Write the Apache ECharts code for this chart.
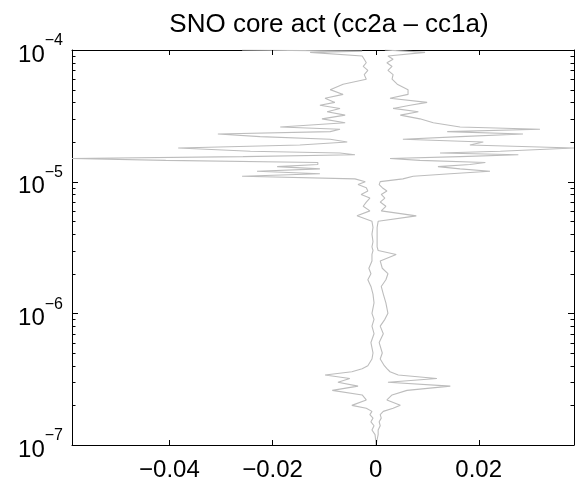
<!DOCTYPE html>
<html>
<head>
<meta charset="utf-8">
<script src="https://cdn.jsdelivr.net/npm/echarts@6/dist/echarts.min.js"></script>
<style>
html,body{margin:0;padding:0;background:#fff;}
#chart{width:581px;height:498px;}
</style>
</head>
<body>
<div id="chart"></div>
<script>
// Depth levels (y, log scale)
var depth = [
  1.0e-7,1.1e-7,1.2e-7,1.3e-7,1.4e-7,1.5e-7,1.6e-7,1.7e-7,1.8e-7,1.9e-7,2.0e-7,2.2e-7,2.4e-7,2.6e-7,2.8e-7,3.0e-7,3.2e-7,3.4e-7,3.6e-7,3.8e-7,4.0e-7,4.5e-7,5.0e-7,6.0e-7,7.0e-7,8.0e-7,9.0e-7,
  1.0e-6,1.2e-6,1.4e-6,1.6e-6,1.8e-6,2.0e-6,2.2e-6,2.5e-6,2.8e-6,3.0e-6,3.2e-6,3.5e-6,4.0e-6,4.5e-6,5.0e-6,5.5e-6,6.0e-6,6.5e-6,7.0e-6,7.5e-6,8.0e-6,8.5e-6,9.0e-6,9.5e-6,
  1.0e-5,1.05e-5,1.1e-5,1.15e-5,1.2e-5,1.25e-5,1.3e-5,1.35e-5,1.4e-5,1.45e-5,1.5e-5,1.55e-5,1.6e-5,1.65e-5,1.7e-5,1.8e-5,1.9e-5,2.0e-5,2.1e-5,2.2e-5,2.3e-5,2.4e-5,2.5e-5,2.6e-5,2.8e-5,3.0e-5,3.2e-5,3.4e-5,3.6e-5,3.8e-5,4.0e-5,4.3e-5,4.6e-5,5.0e-5,5.5e-5,6.0e-5,6.5e-5,7.0e-5,7.5e-5,8.0e-5,8.5e-5,9.0e-5,9.3e-5,9.6e-5,9.8e-5,1.0e-4
];
// Left-hand trace (x values)
var leftX = [
  0.0001,0.0000,-0.0001,-0.0007,-0.0003,-0.0009,-0.0005,-0.0011,-0.0007,-0.0018,-0.0046,-0.0018,-0.0026,-0.0084,-0.0034,-0.0073,-0.0050,-0.0098,-0.0046,-0.0026,-0.0015,-0.0007,-0.0005,-0.0009,-0.0003,-0.0007,-0.0003,
  -0.0007,-0.0003,-0.0005,-0.0009,-0.0015,-0.0009,-0.0013,-0.0007,-0.0007,-0.0005,-0.0007,-0.0005,-0.0007,-0.0005,-0.0007,-0.0036,-0.0011,-0.0024,-0.0018,-0.0011,-0.0028,-0.0015,-0.0018,-0.0034,
  -0.0020,-0.0040,-0.0259,-0.0108,-0.0230,-0.0108,-0.0191,-0.0112,-0.0112,-0.0407,-0.0589,-0.0257,-0.0040,-0.0069,-0.0243,-0.0383,-0.0147,-0.0055,-0.0088,-0.0224,-0.0306,-0.0088,-0.0069,-0.0185,-0.0059,-0.0104,-0.0059,-0.0094,-0.0069,-0.0108,-0.0079,-0.0098,-0.0063,-0.0088,-0.0063,-0.0018,-0.0022,-0.0015,-0.0024,-0.0018,-0.0022,-0.0026,-0.0024,-0.0127,-0.0026,-0.0259
];
// Right-hand trace (x values)
var rightX = [
  0.0001,0.0003,0.0005,0.0005,0.0009,0.0007,0.0011,0.0009,0.0015,0.0034,0.0048,0.0022,0.0032,0.0061,0.0145,0.0024,0.0119,0.0044,0.0028,0.0022,0.0017,0.0009,0.0013,0.0007,0.0015,0.0009,0.0018,
  0.0024,0.0020,0.0015,0.0011,0.0020,0.0024,0.0013,0.0009,0.0040,0.0005,0.0003,0.0003,0.0003,0.0003,0.0005,0.0079,0.0011,0.0020,0.0009,0.0018,0.0011,0.0022,0.0013,0.0007,
  0.0009,0.0053,0.0073,0.0145,0.0222,0.0164,0.0121,0.0183,0.0213,0.0086,0.0028,0.0164,0.0277,0.0125,0.0242,0.0385,0.0183,0.0209,0.0053,0.0164,0.0286,0.0139,0.0319,0.0164,0.0112,0.0086,0.0048,0.0083,0.0034,0.0067,0.0100,0.0028,0.0063,0.0063,0.0042,0.0032,0.0034,0.0024,0.0032,0.0022,0.0034,0.0024,0.0024,0.0096,0.0057,0.0018
];
var xTicks = [-0.04, -0.02, 0, 0.02];
var yMajorTicks = [1e-7, 1e-6, 1e-5, 1e-4];
var yMinorTicks = [2e-7,3e-7,4e-7,5e-7,6e-7,7e-7,8e-7,9e-7,2e-6,3e-6,4e-6,5e-6,6e-6,7e-6,8e-6,9e-6,2e-5,3e-5,4e-5,5e-5,6e-5,7e-5,8e-5,9e-5];
var X_MIN = -0.0589, X_MAX = 0.0385, Y_MIN = 1e-7, Y_MAX = 1e-4;

var FONT = '"Liberation Sans", Arial, Helvetica, sans-serif';
var lineColor = '#bdbdbd';

function zip(ys, xs) { return ys.map(function (y, i) { return [xs[i], y]; }); }

var chart = echarts.init(document.getElementById('chart'), null, {renderer: 'canvas'});

var xAxisCommon = {
  type: 'value', min: X_MIN, max: X_MAX,
  splitLine: {show: false},
  axisLine: {show: true, onZero: false, lineStyle: {color: '#000', width: 1}},
  axisTick: {show: false}
};
var yAxisCommon = {
  type: 'log', min: Y_MIN, max: Y_MAX, logBase: 10,
  splitLine: {show: false},
  axisLine: {show: true, onZero: false, lineStyle: {color: '#000', width: 1}},
  axisTick: {show: false},
  minorTick: {show: false}
};

var option = {
  animation: false,
  backgroundColor: '#fff',
  title: {
    text: 'SNO core act (cc2a \u2013 cc1a)',
    left: 324, top: 7, textAlign: 'center',
    textStyle: {fontFamily: FONT, fontSize: 26, fontWeight: 'normal', color: '#000'}
  },
  grid: {left: 72, right: 7, top: 50, bottom: 53, containLabel: false},
  xAxis: [
    Object.assign({}, xAxisCommon, {
      position: 'bottom',
      axisLabel: {
        show: true, customValues: xTicks, margin: 13, color: '#000',
        fontFamily: FONT, fontSize: 24,
        formatter: function (v) { return v === 0 ? '0' : String(v).replace('-', '\u2212'); }
      }
    }),
    Object.assign({}, xAxisCommon, {position: 'top', axisLabel: {show: false}})
  ],
  yAxis: [
    Object.assign({}, yAxisCommon, {
      position: 'left',
      axisLabel: {
        show: true, margin: 9, color: '#000',
        formatter: function (v) {
          var e = Math.round(Math.log(v) / Math.LN10);
          return '{b|10}{s|\u2212' + Math.abs(e) + '}';
        },
        rich: {
          b: {fontFamily: FONT, fontSize: 24, color: '#000', verticalAlign: 'bottom', lineHeight: 34},
          s: {fontFamily: FONT, fontSize: 16, color: '#000', verticalAlign: 'top', lineHeight: 18}
        }
      }
    }),
    Object.assign({}, yAxisCommon, {position: 'right', axisLabel: {show: false}})
  ],
  series: [
    {
      name: 'left', type: 'line', xAxisIndex: 0, yAxisIndex: 0,
      data: zip(depth, leftX), showSymbol: false, symbol: 'none',
      lineStyle: {color: lineColor, width: 1.1}, z: 2
    },
    {
      name: 'right', type: 'line', xAxisIndex: 0, yAxisIndex: 0,
      data: zip(depth, rightX), showSymbol: false, symbol: 'none',
      lineStyle: {color: lineColor, width: 1.1}, z: 2
    }
  ]
};
chart.setOption(option);

// Tick marks (inside, on all four sides), positioned through the axes' scales
(function () {
  var els = [];
  function px(v) { return chart.convertToPixel({xAxisIndex: 0}, v); }
  function py(v) { return chart.convertToPixel({yAxisIndex: 0}, v); }
  var xl = px(X_MIN), xr = px(X_MAX), yb = py(Y_MIN), yt = py(Y_MAX);
  function seg(x1, y1, x2, y2) {
    els.push({type: 'line', silent: true, z: 10,
      shape: {x1: x1, y1: y1, x2: x2, y2: y2},
      style: {stroke: '#000', lineWidth: 1}});
  }
  xTicks.forEach(function (v) {
    var x = Math.round(px(v)) + 0.5;
    seg(x, yb, x, yb - 5);
    seg(x, yt, x, yt + 5);
  });
  yMajorTicks.forEach(function (v) {
    var y = Math.round(py(v)) + 0.5;
    seg(xl, y, xl + 6, y);
    seg(xr, y, xr - 6, y);
  });
  yMinorTicks.forEach(function (v) {
    var y = Math.round(py(v)) + 0.5;
    seg(xl, y, xl + 3.5, y);
    seg(xr, y, xr - 3.5, y);
  });
  chart.setOption({graphic: els});
})();
</script>
</body>
</html>
